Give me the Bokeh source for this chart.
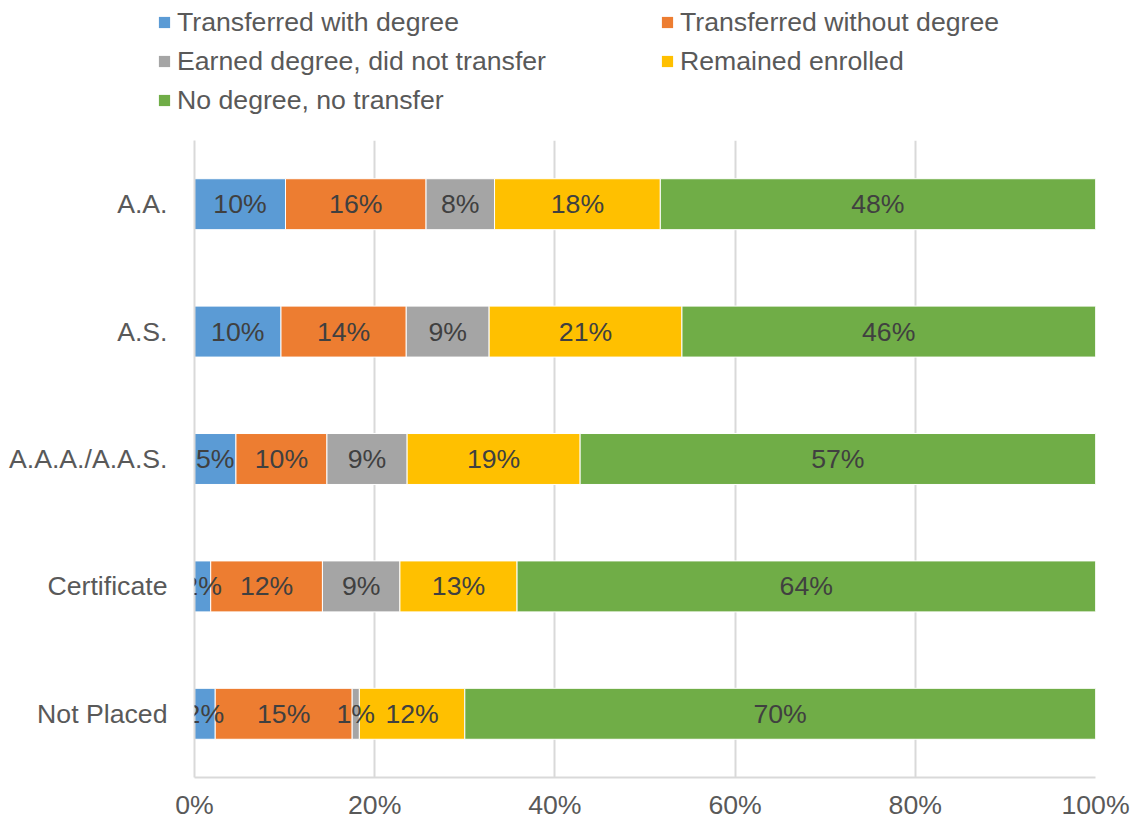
from bokeh.plotting import figure
from bokeh.models import (ColumnDataSource, FactorRange, Range1d, Legend, LegendItem,
                          LabelSet, NumeralTickFormatter, FixedTicker)
from bokeh.core.properties import value
from bokeh.embed import file_html
from bokeh.resources import INLINE

categories = ["A.A.", "A.S.", "A.A.A./A.A.S.", "Certificate", "Not Placed"]
series_names = ["Transferred with degree", "Transferred without degree",
                "Earned degree, did not transfer", "Remained enrolled",
                "No degree, no transfer"]
transferred_with = [10.1, 9.6, 4.6, 1.8, 2.3]
transferred_without = [15.6, 13.9, 10.1, 12.4, 15.2]
earned_no_transfer = [7.6, 9.2, 8.9, 8.6, 0.8]
remained = [18.4, 21.4, 19.2, 13.0, 11.7]
no_degree = [48.3, 45.9, 57.2, 64.2, 70.0]
colors = ["#5B9BD5", "#ED7D31", "#A5A5A5", "#FFC000", "#70AD47"]
x_ticks = [0, 0.2, 0.4, 0.6, 0.8, 1.0]

series = [transferred_with, transferred_without, earned_no_transfer, remained, no_degree]
keys = ["s0", "s1", "s2", "s3", "s4"]
data = {"cat": categories}
for k, s in zip(keys, series):
    data[k] = [v / 100 for v in s]
src = ColumnDataSource(data)

FONT = "Liberation Sans"
FS = "26.67px"

# ---- legend strip (separate root so its frame spans the full width) ----
LEG_H = 132
pl = figure(width=1135, height=LEG_H, output_backend="svg", toolbar_location=None,
            x_axis_location=None, y_axis_location=None,
            x_range=Range1d(0, 1), y_range=FactorRange(*reversed(categories)),
            min_border_left=0, min_border_right=0, min_border_top=0, min_border_bottom=0)
pl.outline_line_color = None
pl.xgrid.visible = False
pl.ygrid.visible = False
# zero-height copies of the stacked bars: only their legend swatches show
leg_renderers = pl.hbar_stack(keys, y="cat", height=0, source=src,
                              fill_color=colors, line_color=None)
items = [LegendItem(label=n, renderers=[r]) for n, r in zip(series_names, leg_renderers)]
LEG_TOTAL = 3 * 31 + 2 * 8
legend = Legend(items=items, orientation="horizontal", nrows=3,
                location=(157, LEG_H - 6.5 - LEG_TOTAL), glyph_width=14, glyph_height=14,
                label_standoff=6, label_width=475, label_height=31, spacing=8,
                padding=0, margin=0, border_line_color=None,
                background_fill_alpha=0, label_text_font=FONT,
                label_text_font_size=FS, label_text_color="#595959")
pl.add_layout(legend, "center")

# ---- main chart ----
p = figure(width=1135, height=822 - LEG_H, output_backend="svg", toolbar_location=None,
           y_range=FactorRange(*reversed(categories)), x_range=Range1d(0, 1),
           min_border_left=194, min_border_right=40, min_border_top=140 - LEG_H,
           min_border_bottom=44)
p.outline_line_color = None

p.hbar_stack(keys, y="cat", height=0.4, source=src, color=colors,
             line_color="white", line_width=1)

for i, k in enumerate(keys):
    left = [sum(series[j][c] for j in range(i)) / 100 for c in range(len(categories))]
    vals = series[i]
    lsrc = ColumnDataSource(dict(
        cat=categories,
        x=[l + v / 200 for l, v in zip(left, vals)],
        t=[f"{round(v)}%" for v in vals]))
    p.add_layout(LabelSet(x="x", y="cat", text="t", source=lsrc, text_align="center",
                          text_baseline="middle", text_font=value(FONT),
                          text_font_size=FS, text_color="#404040"))

p.xaxis.ticker = FixedTicker(ticks=x_ticks)
p.xaxis.formatter = NumeralTickFormatter(format="0%")
p.xaxis.major_tick_line_color = None
p.xaxis.minor_tick_line_color = None
p.xaxis.axis_line_color = "#D9D9D9"
p.xaxis.axis_line_width = 2
p.xaxis.major_label_text_font = FONT
p.xaxis.major_label_text_font_size = FS
p.xaxis.major_label_text_color = "#595959"
p.xaxis.major_label_standoff = 6

p.yaxis.major_tick_line_color = None
p.yaxis.minor_tick_line_color = None
p.yaxis.axis_line_color = "#D9D9D9"
p.yaxis.axis_line_width = 2
p.yaxis.major_label_text_font = FONT
p.yaxis.major_label_text_font_size = FS
p.yaxis.major_label_text_color = "#595959"
p.yaxis.major_label_standoff = 21

p.ygrid.grid_line_color = None
p.xgrid.ticker = FixedTicker(ticks=x_ticks)
p.xgrid.grid_line_color = "#D9D9D9"
p.xgrid.grid_line_width = 2

open("out.html", "w").write(file_html([pl, p], INLINE))
